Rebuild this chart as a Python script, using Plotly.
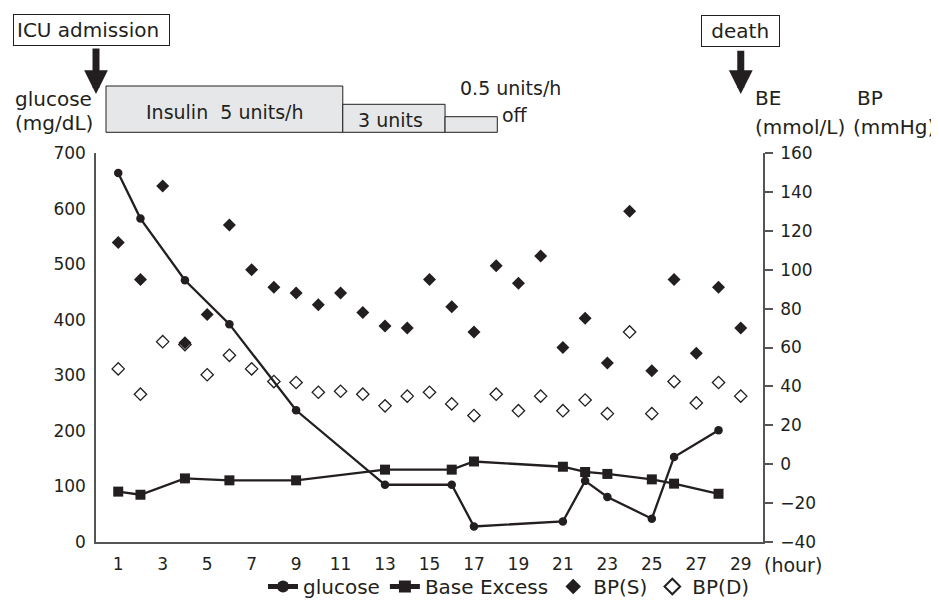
import plotly.graph_objects as go

# ---------------- data ----------------
hours_lab = [1, 2, 4, 6, 9, 13, 16, 17, 21, 22, 23, 25, 26, 28]
glucose = [664, 582, 471, 392, 237, 103, 103, 28, 37, 110, 81, 42, 153, 201]
base_excess = [-14.1, -15.7, -7.3, -8.3, -8.3, -2.8, -2.8, 1.4, -1.3, -4.0, -5.0, -7.8, -10.0, -15.2]

hours_bp = list(range(1, 30))
bp_s = [114, 95, 143, 62.5, 77, 123, 100, 91, 88, 82, 88, 78, 71, 70, 95,
        81, 68, 102, 93, 107, 60, 75, 52, 130, 48, 95, 57, 91, 70]
bp_d = [49, 36, 63, 61.5, 46, 56, 49, 42.5, 42, 37, 37.5, 36, 30, 35, 37,
        31, 25, 36, 27.5, 35, 27.5, 33, 26, 68, 26, 42.5, 31.5, 42, 35]

x_tickvals = list(range(1, 30, 2))
insulin_labels = ["Insulin  5 units/h", "3 units", ""]
insulin_start = [0.45, 11.1, 15.7]
insulin_end = [11.1, 15.7, 18.05]

# ---------------- style ----------------
INK = "#231f20"
AX = "#555555"
FONT = "DejaVu Sans"
OFF = 8  # page body margin
W, H = 939 - OFF, 607 - OFF
L, R, T, B = 96 - OFF, 176, 153 - OFF, 65
PW, PH = W - L - R, H - T - B
PLOT_L, PLOT_B = 96, 542  # plot-area edges in page pixels


def fx(px):
    return (px - PLOT_L) / PW


def fy(py):
    return (PLOT_B - py) / PH


fig = go.Figure()

fig.add_trace(go.Scatter(
    x=hours_bp, y=bp_d, name="BP(D)", mode="markers", yaxis="y2",
    marker=dict(symbol="diamond-open", size=9.5, color=INK, line=dict(width=1.3, color=INK)),
    legendrank=4))
fig.add_trace(go.Scatter(
    x=hours_bp, y=bp_s, name="BP(S)", mode="markers", yaxis="y2",
    marker=dict(symbol="diamond", size=10, color=INK),
    legendrank=3))
fig.add_trace(go.Scatter(
    x=hours_lab, y=base_excess, name="Base Excess", mode="lines+markers", yaxis="y2",
    line=dict(color=INK, width=2.3),
    marker=dict(symbol="square", size=10, color=INK),
    legendrank=2))
fig.add_trace(go.Scatter(
    x=hours_lab, y=glucose, name="glucose", mode="lines+markers", yaxis="y",
    line=dict(color=INK, width=2.3),
    marker=dict(symbol="circle", size=8.5, color=INK),
    legendrank=1))

shapes = []
tops = [86, 104.3, 116.7]
for s, e, tp in zip(insulin_start, insulin_end, tops):
    shapes.append(dict(type="rect", xref="x", yref="paper", x0=s, x1=e,
                       y0=fy(132.3), y1=fy(tp), fillcolor="#e6e7e8",
                       line=dict(color=INK, width=1), layer="above"))

ann = []


def txt(text, x, y, size=20, xanchor="left", **kw):
    ann.append(dict(text=text, x=fx(x), y=fy(y), xref="paper", yref="paper",
                    xanchor=xanchor, yanchor="middle", showarrow=False,
                    font=dict(family=FONT, size=size, color=INK), **kw))


# boxed labels
txt("ICU admission&nbsp;", 12.5, 29.7, size=20, bordercolor=INK, borderwidth=1,
    borderpad=3, bgcolor="white")
txt("&nbsp;death&nbsp;", 740, 30.8, size=20, xanchor="center", bordercolor=INK,
    borderwidth=1, borderpad=3, bgcolor="white")

# arrows
for hx, tail in [(0, 47), (29, 49.3)]:
    ann.append(dict(text="", x=hx, y=fy(94), xref="x", yref="paper",
                    showarrow=True, ax=0, ay=-(94 - tail), arrowhead=2,
                    arrowsize=0.68, arrowwidth=7, arrowcolor=INK))

# axis titles
txt("glucose", 13, 99.3)
txt("(mg/dL)", 13, 123.3)
txt("BE", 753, 98)
txt("(mmol/L)", 753, 127)
txt("BP", 855, 98)
txt("(mmHg)", 851, 127)
txt("(hour)", 762, 565, size=19)

# insulin texts
txt(insulin_labels[0], 224.5, 111.7, size=19, xanchor="center")
txt(insulin_labels[1], 356, 120, size=19)
txt("0.5 units/h", 458, 88.3, size=19)
txt("off", 500, 115, size=19)

fig.update_layout(
    width=W, height=H,
    margin=dict(l=L, r=R, t=T, b=B, autoexpand=False),
    paper_bgcolor="white", plot_bgcolor="white",
    font=dict(family=FONT, size=17, color=INK),
    showlegend=True,
    legend=dict(orientation="h", x=fx(263), xanchor="left", y=fy(606), yanchor="bottom",
                font=dict(family=FONT, size=20, color=INK), bgcolor="rgba(0,0,0,0)",
                itemsizing="constant"),
    xaxis=dict(range=[0, 30], tickvals=x_tickvals, ticks="", showline=True,
               linecolor=AX, linewidth=1.5, showgrid=False, zeroline=False,
               tickfont=dict(family=FONT, size=17, color=INK), ticklabelstandoff=6),
    yaxis=dict(range=[0, 700], dtick=100, ticks="", showline=True, linecolor=AX,
               linewidth=1.5, showgrid=False, zeroline=False,
               tickfont=dict(family=FONT, size=17, color=INK), ticklabelstandoff=5),
    yaxis2=dict(range=[-40, 160], dtick=20, overlaying="y", side="right",
                ticks="outside", ticklen=8, tickwidth=1.5, tickcolor=AX,
                showline=True, linecolor=AX, linewidth=1.5, showgrid=False,
                zeroline=False, tickfont=dict(family=FONT, size=17, color=INK),
                ticklabelstandoff=4),
    shapes=shapes,
    annotations=ann,
)

fig.write_html("out.html")
